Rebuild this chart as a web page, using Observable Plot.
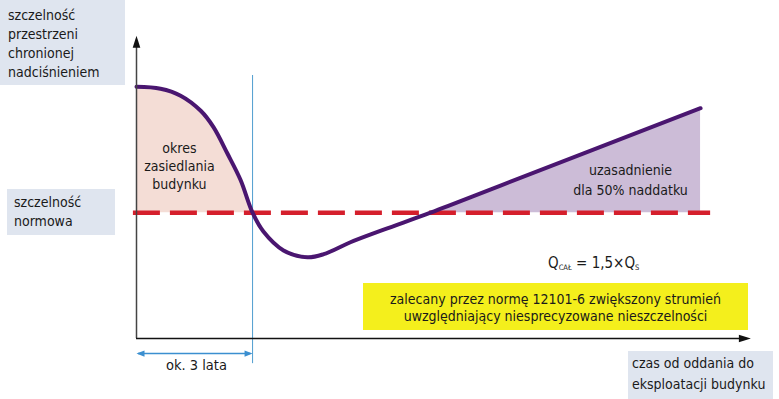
<!DOCTYPE html>
<html><head><meta charset="utf-8">
<script src="https://cdn.jsdelivr.net/npm/d3@7"></script>
<script src="https://cdn.jsdelivr.net/npm/@observablehq/plot@0.6"></script>
<style>
body{margin:0;background:#fff;}
#wrap{position:relative;width:779px;height:399px;overflow:hidden;font-family:"Liberation Sans Narrow","DejaVu Sans Condensed","Arial Narrow",sans-serif;color:#1a1a1a;}
#wrap svg{position:absolute;left:0;top:0;}
.box{position:absolute;background:#dfe5ef;font-size:14px;line-height:19px;box-sizing:border-box;white-space:nowrap;}
.yellow{position:absolute;background:#f4ef1c;font-size:14px;line-height:17px;text-align:center;box-sizing:border-box;white-space:nowrap;}
.formula{position:absolute;font-size:15px;line-height:16px;white-space:nowrap;}
.formula sub{font-size:7.5px;line-height:0;vertical-align:-2px;}
</style></head><body><div id="wrap"></div>
<script>
// ---- data ----
const years = [0, 0.62, 1.14, 1.66, 1.99, 2.35, 2.69, 3.0, 3.28, 3.8, 4.42, 4.84, 5.53, 6.39, 7.6, 9.41, 14.58];
const tightness = [2.0, 1.985, 1.93, 1.81, 1.68, 1.47, 1.26, 1.0, 0.85, 0.70, 0.645, 0.67, 0.765, 0.865, 1.0, 1.215, 1.83];
const normLevel = 1;
const settlingYears = 3;
const xAxisMax = 15.88;
const yAxisMax = 2.405;
const yAxisLabel = ["szczelność", "przestrzeni", "chronionej", "nadciśnieniem"];
const normLabel = ["szczelność", "normowa"];
const xAxisLabel = ["czas od oddania do", "eksploatacji budynku"];
const settlingLabel = "okres\nzasiedlania\nbudynku";
const marginLabel = "uzasadnienie\ndla 50% naddatku";
const periodLabel = "ok. 3 lata";
const normNote = ["zalecany przez normę 12101-6 zwiększony strumień", "uwzględniający niesprecyzowane nieszczelności"];

// ---- build ----
const pts = years.map((x, i) => ({x, y: tightness[i]}));
const early = pts.filter(d => d.x <= settlingYears);
const crossX = years.find((x, i) => x > settlingYears && tightness[i] === normLevel);
const late = pts.filter(d => d.x >= crossX);
const lastX = years[years.length - 1];

const head = {draw(ctx) { ctx.moveTo(0, 0); ctx.lineTo(-3.8, 12); ctx.lineTo(3.8, 12); ctx.closePath(); }};
const smallHead = {draw(ctx) { ctx.moveTo(0, 0); ctx.lineTo(-3.2, 8); ctx.lineTo(3.2, 8); ctx.closePath(); }};
const dimY = -0.12;
const font = '"Liberation Sans Narrow","DejaVu Sans Condensed","Arial Narrow",sans-serif';

const chart = Plot.plot({
  width: 779, height: 399,
  marginLeft: 136, marginRight: 24, marginTop: 36, marginBottom: 61,
  x: {domain: [0, 16], axis: null},
  y: {domain: [0, 2.4], axis: null},
  style: {fontFamily: font, background: "transparent", overflow: "visible"},
  marks: [
    Plot.areaY(early, {x: "x", y1: normLevel, y2: "y", fill: "#f4ddd6", curve: "catmull-rom"}),
    Plot.areaY(late, {x: "x", y1: normLevel, y2: "y", fill: "#ccbcd7", curve: "linear"}),
    Plot.ruleX([settlingYears], {y1: -0.2, y2: 2.09, stroke: "#4f9dcf", strokeWidth: 1}),
    Plot.ruleY([normLevel], {x1: -0.08, x2: lastX + 0.26, stroke: "#d51f2c", strokeWidth: 4.5, strokeDasharray: "27,10"}),
    Plot.line(pts, {x: "x", y: "y", stroke: "#4a1670", strokeWidth: 4, curve: "catmull-rom"}),
    // axes
    Plot.ruleX([0], {y1: 0, y2: yAxisMax - 0.05, stroke: "#444", strokeWidth: 1.5}),
    Plot.ruleY([0], {x1: 0, x2: xAxisMax - 0.1, stroke: "#111", strokeWidth: 1.5}),
    Plot.dot([{x: 0, y: yAxisMax}], {x: "x", y: "y", symbol: head, r: 4, fill: "#111", stroke: null}),
    Plot.dot([{x: xAxisMax, y: 0}], {x: "x", y: "y", symbol: head, r: 4, fill: "#111", stroke: null, rotate: 90}),
    // dimension arrow
    Plot.ruleY([dimY], {x1: 0.05, x2: settlingYears - 0.05, stroke: "#3b8fd0", strokeWidth: 1.5}),
    Plot.dot([{x: 0, y: dimY}], {x: "x", y: "y", symbol: smallHead, r: 3, fill: "#3b8fd0", stroke: null, rotate: -90}),
    Plot.dot([{x: settlingYears, y: dimY}], {x: "x", y: "y", symbol: smallHead, r: 3, fill: "#3b8fd0", stroke: null, rotate: 90}),
    Plot.text([periodLabel], {x: settlingYears / 2 + 0.05, y: -0.215, text: d => d, fontSize: 14.5, fill: "#1a1a1a"}),
    Plot.text([settlingLabel], {x: 1.11, y: 1.375, text: d => d, fontSize: 14, lineHeight: 1.28, fill: "#1a1a1a"}),
    Plot.text([marginLabel], {x: 12.77, y: 1.27, text: d => d, fontSize: 14, lineHeight: 1.4, fill: "#1a1a1a"})
  ]
});

const wrap = document.getElementById("wrap");
wrap.appendChild(chart);

function box(cls, lines, style) {
  const d = document.createElement("div");
  d.className = cls;
  d.innerHTML = lines.join("<br>");
  Object.assign(d.style, style);
  wrap.appendChild(d);
}
box("box", yAxisLabel, {left: "0px", top: "0px", width: "125px", height: "85px", paddingTop: "6px", paddingLeft: "8px"});
box("box", normLabel, {left: "7px", top: "189px", width: "108px", height: "46px", paddingTop: "4px", paddingLeft: "7px"});
box("box", xAxisLabel, {left: "628px", top: "351px", width: "145px", height: "48px", paddingTop: "2px", paddingLeft: "4px", lineHeight: "21px"});
box("yellow", normNote, {left: "363px", top: "283px", width: "385px", height: "47px", paddingTop: "8px"});

const f = document.createElement("div");
f.className = "formula";
f.style.left = "548px"; f.style.top = "255px";
f.innerHTML = "Q<sub>CAŁ</sub> = 1,5×Q<sub>S</sub>";
wrap.appendChild(f);
</script>
</body></html>
